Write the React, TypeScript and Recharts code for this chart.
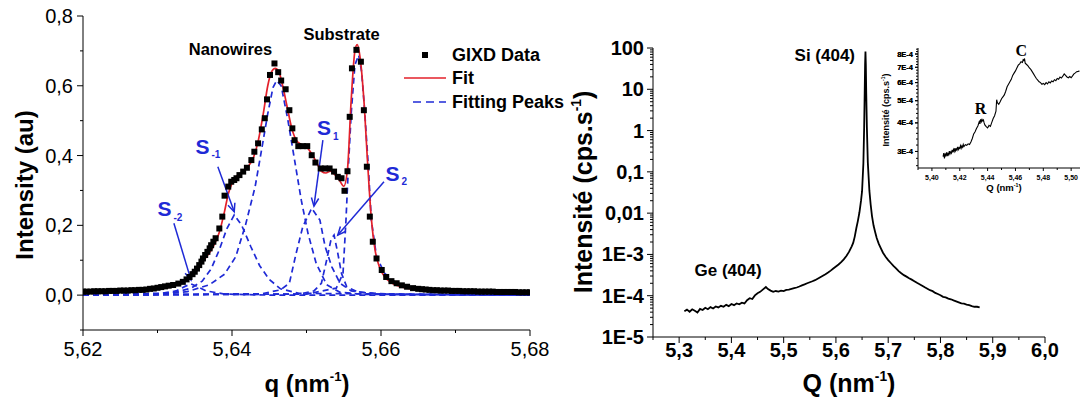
import React from 'react';
import {
    ComposedChart,
    LineChart,
    Line,
    Scatter,
    XAxis,
    YAxis,
    ReferenceLine,
    ReferenceDot,
    Legend,
} from 'recharts';

const font = '"Liberation Sans", Arial, Helvetica, sans-serif';
const serif = '"Liberation Serif", "Times New Roman", serif';
const blue = '#1f2ad6';
const red = '#e3202a';

// ---------- left panel: GIXD data, fit and fitting peaks ----------
const gixdQ = [
    5.62, 5.6205, 5.621, 5.6215, 5.622, 5.6225, 5.623, 5.6235, 5.624, 5.6245, 5.625, 5.6255, 5.626,
    5.6265, 5.627, 5.6275, 5.628, 5.6285, 5.629, 5.6295, 5.63, 5.6305, 5.631, 5.6315, 5.6321, 5.6328,
    5.6334, 5.6339, 5.6343, 5.6347, 5.635, 5.6353, 5.6356, 5.6359, 5.6361, 5.6364, 5.6367, 5.637,
    5.6372, 5.6375, 5.6378, 5.6383, 5.6387, 5.639, 5.6395, 5.6399, 5.6403, 5.6406, 5.641, 5.6415,
    5.642, 5.6426, 5.643, 5.6435, 5.644, 5.6444, 5.6447, 5.6451, 5.6457, 5.6462, 5.6466, 5.6472,
    5.6477, 5.6481, 5.6484, 5.6489, 5.6495, 5.6501, 5.6507, 5.6512, 5.6519, 5.6525, 5.6531, 5.6537,
    5.6542, 5.6547, 5.6551, 5.6555, 5.6558, 5.6561, 5.6567, 5.6573, 5.6577, 5.6581, 5.6585, 5.6589,
    5.6594, 5.6601, 5.6607, 5.6614, 5.6621, 5.6628, 5.6635, 5.6643, 5.665, 5.6655, 5.666, 5.6665,
    5.667, 5.6675, 5.668, 5.6685, 5.669, 5.6695, 5.67, 5.6705, 5.671, 5.6715, 5.672, 5.6725, 5.673,
    5.6735, 5.674, 5.6745, 5.675, 5.6755, 5.676, 5.6765, 5.677, 5.6775, 5.678, 5.6785, 5.679, 5.6795,
    5.68,
];
const gixdI = [
    0.01, 0.01, 0.01, 0.011, 0.011, 0.011, 0.011, 0.012, 0.012, 0.012, 0.013, 0.013, 0.013,
    0.014, 0.014, 0.015, 0.015, 0.016, 0.018, 0.019, 0.021, 0.023, 0.025, 0.027, 0.029, 0.033,
    0.038, 0.045, 0.052, 0.06, 0.067, 0.076, 0.086, 0.096, 0.105, 0.115, 0.124, 0.134,
    0.143, 0.153, 0.163, 0.191, 0.225, 0.285, 0.311, 0.325, 0.33, 0.335, 0.344, 0.354,
    0.365, 0.387, 0.411, 0.435, 0.475, 0.507, 0.561, 0.631, 0.664, 0.639, 0.615, 0.59,
    0.53, 0.478, 0.444, 0.427, 0.427, 0.427, 0.401, 0.38, 0.363, 0.363, 0.363, 0.354,
    0.339, 0.335, 0.299, 0.355, 0.511, 0.65, 0.703, 0.669, 0.53, 0.368, 0.225, 0.153,
    0.105, 0.072, 0.052, 0.04, 0.034, 0.028, 0.024, 0.02, 0.018, 0.017, 0.016, 0.015,
    0.014, 0.014, 0.013, 0.013, 0.013, 0.012, 0.012, 0.012, 0.011, 0.011, 0.011, 0.011, 0.01,
    0.01, 0.01, 0.01, 0.01, 0.009, 0.009, 0.009, 0.009, 0.009, 0.009, 0.008, 0.008, 0.008,
    0.008,
];

const fitQ = [
    5.62, 5.625, 5.628, 5.63, 5.6315, 5.6325, 5.6335, 5.6345, 5.6355, 5.6365, 5.6375, 5.6383, 5.639,
    5.6395, 5.64, 5.6405, 5.6412, 5.642, 5.6428, 5.6435, 5.6442, 5.6448, 5.6453, 5.6458, 5.6463,
    5.6468, 5.6474, 5.648, 5.6486, 5.6493, 5.65, 5.6507, 5.6514, 5.652, 5.6526, 5.6532, 5.6538,
    5.6544, 5.655, 5.6555, 5.656, 5.6565, 5.6568, 5.6572, 5.6577, 5.6582, 5.6587, 5.6592, 5.6598,
    5.6605, 5.6615, 5.663, 5.665, 5.668, 5.672, 5.68,
];
const fitI = [
    0.008, 0.01, 0.013, 0.017, 0.022, 0.029, 0.04, 0.057, 0.08, 0.108, 0.14, 0.18, 0.24,
    0.29, 0.32, 0.338, 0.35, 0.365, 0.39, 0.44, 0.52, 0.6, 0.64, 0.65, 0.64,
    0.6, 0.54, 0.48, 0.445, 0.432, 0.425, 0.405, 0.378, 0.355, 0.35, 0.355, 0.345,
    0.33, 0.312, 0.36, 0.56, 0.7, 0.718, 0.68, 0.56, 0.38, 0.22, 0.13, 0.08,
    0.052, 0.034, 0.022, 0.016, 0.012, 0.01, 0.008,
];

const peakS2Q = [5.62, 5.63, 5.6325, 5.6337, 5.6345, 5.6353, 5.6365, 5.639, 5.645, 5.68];
const peakS2I = [0, 0.003, 0.012, 0.025, 0.032, 0.025, 0.012, 0.003, 0, 0];

const peakS1mQ = [
    5.62, 5.632, 5.6345, 5.636, 5.6372, 5.6383, 5.6393, 5.6403, 5.6413, 5.6425, 5.6437, 5.645,
    5.6465, 5.649, 5.68,
];
const peakS1mI = [0, 0.006, 0.02, 0.04, 0.075, 0.13, 0.19, 0.23, 0.2, 0.14, 0.085, 0.045, 0.018, 0.005, 0];

const peakMainQ = [
    5.62, 5.63, 5.634, 5.637, 5.639, 5.6405, 5.6418, 5.6431, 5.644, 5.6448, 5.6455, 5.646, 5.6466,
    5.6475, 5.6484, 5.6493, 5.6502, 5.6513, 5.6527, 5.6545, 5.658, 5.68,
];
const peakMainI = [
    0, 0.002, 0.01, 0.03, 0.06, 0.11, 0.2, 0.31, 0.42, 0.52, 0.595, 0.615, 0.6,
    0.502, 0.387, 0.272, 0.177, 0.091, 0.03, 0.008, 0.002, 0,
];

const peakS1Q = [
    5.62, 5.644, 5.6465, 5.6477, 5.6486, 5.6495, 5.6507, 5.6518, 5.6525, 5.6534, 5.6545, 5.656,
    5.659, 5.68,
];
const peakS1I = [0, 0.004, 0.015, 0.034, 0.119, 0.196, 0.249, 0.215, 0.139, 0.081, 0.034, 0.012, 0.004, 0];

const peakS2pQ = [
    5.62, 5.649, 5.651, 5.652, 5.6527, 5.6533, 5.6537, 5.6542, 5.6547, 5.6554, 5.657, 5.662, 5.68,
];
const peakS2pI = [0, 0.003, 0.012, 0.034, 0.1, 0.16, 0.172, 0.12, 0.062, 0.024, 0.008, 0.002, 0];

const peakSubQ = [
    5.62, 5.65, 5.654, 5.6549, 5.6553, 5.6556, 5.656, 5.6565, 5.657, 5.6574, 5.6578, 5.6583,
    5.6587, 5.6594, 5.6605, 5.6621, 5.665, 5.67, 5.68,
];
const peakSubI = [
    0, 0.003, 0.02, 0.062, 0.215, 0.358, 0.521, 0.66, 0.688, 0.64, 0.53, 0.368,
    0.215, 0.11, 0.062, 0.034, 0.016, 0.006, 0.003,
];

const leftXTicks = [5.62, 5.63, 5.64, 5.65, 5.66, 5.67, 5.68];
const leftYTicks = [-0.1, 0, 0.1, 0.2, 0.3, 0.4, 0.5, 0.6, 0.7, 0.8];

// ---------- right panel: wide Q scan, log scale ----------
const scanQ = [
    5.31, 5.315, 5.32, 5.325, 5.33, 5.335, 5.34, 5.345, 5.35, 5.355, 5.36, 5.365, 5.37, 5.375,
    5.38, 5.385, 5.39, 5.395, 5.4, 5.405, 5.41, 5.415, 5.42, 5.425, 5.43, 5.435, 5.44, 5.445,
    5.45, 5.455, 5.46, 5.466, 5.47, 5.475, 5.48, 5.485, 5.49, 5.495, 5.5, 5.505, 5.51, 5.515,
    5.52, 5.525, 5.53, 5.535, 5.54, 5.545, 5.55, 5.555, 5.56, 5.565, 5.57, 5.575, 5.58, 5.585,
    5.59, 5.595, 5.6, 5.605, 5.61, 5.615, 5.62, 5.625, 5.63, 5.633, 5.636, 5.639, 5.642, 5.645,
    5.648, 5.65, 5.6525, 5.654, 5.655, 5.6558, 5.6565, 5.6572, 5.658, 5.6592, 5.661, 5.664,
    5.6665, 5.669, 5.672, 5.675, 5.678, 5.682, 5.686, 5.69, 5.695, 5.7, 5.705, 5.71, 5.715,
    5.72, 5.725, 5.73, 5.735, 5.74, 5.745, 5.75, 5.755, 5.76, 5.765, 5.77, 5.775, 5.78, 5.785,
    5.79, 5.795, 5.8, 5.805, 5.81, 5.815, 5.82, 5.825, 5.83, 5.835, 5.84, 5.845, 5.85, 5.855,
    5.86, 5.865, 5.87, 5.875,
];
const scanI = [
    4.2e-5, 4.6e-5, 4.1e-5, 4.7e-5, 4.3e-5, 3.9e-5, 4.8e-5, 4.5e-5, 5.1e-5, 4.7e-5, 5.3e-5, 4.9e-5, 5.5e-5, 5.2e-5,
    5.7e-5, 5.4e-5, 6.0e-5, 5.6e-5, 6.3e-5, 5.9e-5, 6.5e-5, 6.2e-5, 6.8e-5, 6.5e-5, 7.8e-5, 8.7e-5, 8.3e-5, 1.02e-4,
    1.15e-4, 1.24e-4, 1.4e-4, 1.62e-4, 1.45e-4, 1.33e-4, 1.24e-4, 1.3e-4, 1.26e-4, 1.33e-4, 1.29e-4, 1.38e-4, 1.4e-4, 1.46e-4,
    1.52e-4, 1.58e-4, 1.67e-4, 1.78e-4, 1.88e-4, 2.0e-4, 2.12e-4, 2.24e-4, 2.38e-4, 2.58e-4, 2.8e-4, 3.05e-4, 3.32e-4, 3.65e-4,
    4.05e-4, 4.55e-4, 5.1e-4, 5.7e-4, 6.5e-4, 7.6e-4, 9.2e-4, 1.15e-3, 1.55e-3, 1.9e-3, 2.7e-3, 4.3e-3, 6.5e-3, 1.05e-2,
    2.0e-2, 3.4e-2, 0.16, 1.2, 8, 40, 82, 40, 8, 1.2, 0.17, 0.035,
    0.016, 8.5e-3, 5.0e-3, 3.5e-3, 2.5e-3, 1.8e-3, 1.4e-3, 1.1e-3, 8.8e-4, 7.3e-4, 6.2e-4, 5.3e-4, 4.6e-4,
    3.95e-4, 3.5e-4, 3.15e-4, 2.9e-4, 2.65e-4, 2.45e-4, 2.25e-4, 2.05e-4, 1.9e-4, 1.75e-4, 1.6e-4, 1.48e-4, 1.36e-4, 1.29e-4,
    1.17e-4, 1.1e-4, 1.03e-4, 9.4e-5, 9.1e-5, 8.5e-5, 8.2e-5, 7.7e-5, 7.3e-5, 6.9e-5, 6.5e-5, 6.4e-5, 6.1e-5, 5.9e-5,
    5.6e-5, 5.4e-5, 5.4e-5, 5.2e-5,
];

const rightXTicks = [
    5.25, 5.3, 5.35, 5.4, 5.45, 5.5, 5.55, 5.6, 5.65, 5.7, 5.75, 5.8, 5.85, 5.9, 5.95, 6.0,
];
const logMajors = [1e-5, 1e-4, 1e-3, 1e-2, 1e-1, 1, 10, 100];
const logLabels = ['1E-5', '1E-4', '1E-3', '0,01', '0,1', '1', '10', '100'];
const logMinorSteps = [2, 3, 4, 5, 6, 7, 8, 9];

// ---------- inset: zoom on the Ge (404) region ----------
const insetQ = [
    5.408, 5.4085, 5.409, 5.4095, 5.41, 5.4105, 5.411, 5.4115, 5.412, 5.4125, 5.413, 5.4135, 5.414,
    5.4145, 5.415, 5.4155, 5.416, 5.4165, 5.417, 5.4175, 5.418, 5.4185, 5.419, 5.4195, 5.42, 5.4205,
    5.421, 5.4215, 5.422, 5.4225, 5.423, 5.424, 5.425, 5.426, 5.427, 5.428, 5.429, 5.43, 5.431,
    5.432, 5.433, 5.434, 5.4345, 5.435, 5.4355, 5.436, 5.4365, 5.437, 5.4375, 5.438, 5.439, 5.44,
    5.441, 5.442, 5.443, 5.444, 5.445, 5.446, 5.4465, 5.447, 5.448, 5.449, 5.45, 5.451, 5.452,
    5.453, 5.454, 5.455, 5.456, 5.457, 5.458, 5.459, 5.46, 5.461, 5.462, 5.463, 5.464, 5.465,
    5.4655, 5.466, 5.4665, 5.467, 5.468, 5.469, 5.47, 5.471, 5.472, 5.473, 5.474, 5.475, 5.476,
    5.477, 5.478, 5.479, 5.48, 5.481, 5.482, 5.483, 5.484, 5.485, 5.486, 5.487, 5.488, 5.489,
    5.49, 5.491, 5.492, 5.493, 5.494, 5.495, 5.496, 5.497, 5.498, 5.499, 5.5, 5.501, 5.502, 5.503,
    5.504, 5.505, 5.506,
];
const insetI = [
    2.85e-4, 2.95e-4, 2.8e-4, 2.92e-4, 2.88e-4, 2.97e-4, 2.86e-4, 2.94e-4, 2.9e-4, 3.01e-4, 2.93e-4, 2.99e-4, 2.95e-4,
    3.05e-4, 2.97e-4, 3.06e-4, 3.0e-4, 3.1e-4, 3.02e-4, 3.08e-4, 3.04e-4, 3.14e-4, 3.06e-4, 3.12e-4, 3.09e-4, 3.18e-4,
    3.1e-4, 3.17e-4, 3.13e-4, 3.22e-4, 3.15e-4, 3.21e-4, 3.19e-4, 3.24e-4, 3.22e-4, 3.3e-4, 3.42e-4, 3.58e-4, 3.66e-4,
    3.78e-4, 3.88e-4, 4.05e-4, 3.96e-4, 4.15e-4, 4.05e-4, 4.14e-4, 4.08e-4, 4.12e-4, 4.0e-4, 3.92e-4, 3.85e-4, 3.8e-4,
    3.9e-4, 3.86e-4, 4.02e-4, 4.18e-4, 4.3e-4, 4.5e-4, 5.05e-4, 4.9e-4, 4.82e-4, 4.95e-4, 5.1e-4, 5.2e-4, 5.3e-4,
    5.5e-4, 5.75e-4, 5.9e-4, 6.05e-4, 6.2e-4, 6.45e-4, 6.6e-4, 6.75e-4, 6.95e-4, 7.15e-4, 7.25e-4, 7.4e-4, 7.35e-4,
    7.55e-4, 7.5e-4, 7.65e-4, 7.3e-4, 7.2e-4, 7.1e-4, 6.95e-4, 6.85e-4, 6.7e-4, 6.55e-4, 6.4e-4, 6.25e-4, 6.15e-4,
    6.05e-4, 6.0e-4, 5.9e-4, 5.95e-4, 5.88e-4, 6.0e-4, 5.92e-4, 6.05e-4, 5.98e-4, 6.1e-4, 6.05e-4, 6.18e-4, 6.12e-4,
    6.25e-4, 6.2e-4, 6.35e-4, 6.28e-4, 6.4e-4, 6.55e-4, 6.45e-4, 6.35e-4, 6.3e-4, 6.38e-4, 6.3e-4, 6.42e-4, 6.55e-4, 6.62e-4,
    6.7e-4, 6.72e-4, 6.75e-4,
];

const insetXTicks = [
    5.39, 5.4, 5.41, 5.42, 5.43, 5.44, 5.45, 5.46, 5.47, 5.48, 5.49, 5.5, 5.51, 5.52,
];
const insetXLabelled = [5.4, 5.42, 5.44, 5.46, 5.48, 5.5];
const insetYMajors = [3e-4, 4e-4, 5e-4, 6e-4, 7e-4, 8e-4];
const insetYMinorStep = 0.2e-4;

const zip = (qs: number[], vs: number[]) => qs.map((q, i) => ({ q, v: vs[i] }));

const gixdData = zip(gixdQ, gixdI);
const fitData = zip(fitQ, fitI);
const peakSeries = [
    zip(peakS2Q, peakS2I),
    zip(peakS1mQ, peakS1mI),
    zip(peakMainQ, peakMainI),
    zip(peakS1Q, peakS1I),
    zip(peakS2pQ, peakS2pI),
    zip(peakSubQ, peakSubI),
];
const scanData = zip(scanQ, scanI);
const insetData = zip(insetQ, insetI);

const rightYTicks = [
    ...logMajors,
    ...logMajors.slice(0, -1).flatMap((d) => logMinorSteps.map((k) => d * k)),
].sort((a, b) => a - b);

const insetYTicks: number[] = [];
for (let v = 2.6e-4; v < 8.5e-4; v += insetYMinorStep) insetYTicks.push(Number(v.toPrecision(3)));

const isLogMajor = (v: number) => Math.abs(Math.log10(v) - Math.round(Math.log10(v))) < 1e-6;
const logLabel = (v: number) => {
    const i = logMajors.findIndex((m) => Math.abs(m - v) / m < 1e-6);
    return i >= 0 ? logLabels[i] : '';
};

// ---------- tick renderers (ticks drawn by hand so minor ticks can be short) ----------
type TickOpts = {
    isMajor: (v: number) => boolean;
    label: (v: number) => string;
    fontSize: number;
    bold?: boolean;
    major: number;
    minor: number;
    gap: number;
};

const makeYTick = (o: TickOpts) => (p: any) => {
    const { x, y, payload } = p;
    const v = payload.value;
    const maj = o.isMajor(v);
    return (
        <g>
            <line x1={x} x2={x - (maj ? o.major : o.minor)} y1={y} y2={y} stroke="#000" strokeWidth={1} />
            {maj && (
                <text
                    x={x - o.gap}
                    y={y}
                    textAnchor="end"
                    dominantBaseline="central"
                    fontSize={o.fontSize}
                    fontWeight={o.bold ? 700 : 400}
                    fontFamily={font}
                    fill="#000"
                >
                    {o.label(v)}
                </text>
            )}
        </g>
    );
};

const makeXTick = (o: TickOpts) => (p: any) => {
    const { x, y, payload } = p;
    const v = payload.value;
    const maj = o.isMajor(v);
    return (
        <g>
            <line x1={x} x2={x} y1={y} y2={y + (maj ? o.major : o.minor)} stroke="#000" strokeWidth={1} />
            {maj && (
                <text
                    x={x}
                    y={y + o.gap}
                    textAnchor="middle"
                    dominantBaseline="central"
                    fontSize={o.fontSize}
                    fontWeight={o.bold ? 700 : 400}
                    fontFamily={font}
                    fill="#000"
                >
                    {o.label(v)}
                </text>
            )}
        </g>
    );
};

const leftYTick = makeYTick({
    isMajor: (v) => Math.round(v * 10) % 2 === 0,
    label: (v) => v.toFixed(1).replace('.', ','),
    fontSize: 20,
    major: 6,
    minor: 3,
    gap: 10,
});
const leftXTick = makeXTick({
    isMajor: (v) => Math.round(v * 100) % 2 === 0,
    label: (v) => v.toFixed(2).replace('.', ','),
    fontSize: 20,
    major: 6,
    minor: 3,
    gap: 19,
});
const rightYTick = makeYTick({
    isMajor: isLogMajor,
    label: logLabel,
    fontSize: 20,
    bold: true,
    major: 6,
    minor: 3,
    gap: 9,
});
const rightXTick = makeXTick({
    isMajor: (v) => Math.round(v * 100) % 10 === 0,
    label: (v) => v.toFixed(1).replace('.', ','),
    fontSize: 20,
    bold: true,
    major: 6,
    minor: 3,
    gap: 13,
});
const insetYTick = makeYTick({
    isMajor: (v) => Math.abs(v * 1e4 - Math.round(v * 1e4)) < 1e-6,
    label: (v) => `${Math.round(v * 1e4)}E-4`,
    fontSize: 7.5,
    bold: true,
    major: 3,
    minor: 2,
    gap: 5,
});
const insetXTick = makeXTick({
    isMajor: (v) => insetXLabelled.some((m) => Math.abs(m - v) < 1e-6),
    label: (v) => v.toFixed(2).replace('.', ','),
    fontSize: 7,
    bold: true,
    major: 3,
    minor: 2,
    gap: 9,
});

// ---------- annotation shapes ----------
const Arrow = (p: any) => {
    const { x1, y1, x2, y2 } = p;
    const a = Math.atan2(y2 - y1, x2 - x1);
    const h = 9;
    const w = 0.42;
    const ax = x2 - h * Math.cos(a - w);
    const ay = y2 - h * Math.sin(a - w);
    const bx = x2 - h * Math.cos(a + w);
    const by = y2 - h * Math.sin(a + w);
    return (
        <g stroke={blue} strokeWidth={1.5} fill="none">
            <line x1={x1} y1={y1} x2={x2} y2={y2} />
            <polyline points={`${ax},${ay} ${x2},${y2} ${bx},${by}`} />
        </g>
    );
};

const peakLabel = (sub: string) => (p: any) => (
    <text x={p.cx} y={p.cy} fill={blue} fontFamily={font} fontWeight={700} fontSize={21} dominantBaseline="central">
        S
        <tspan dx={2} dy={8} fontSize={10}>
            {sub}
        </tspan>
    </text>
);

const plainLabel = (txt: string, size: number, family = font) => (p: any) => (
    <text
        x={p.cx}
        y={p.cy}
        textAnchor="middle"
        dominantBaseline="central"
        fontFamily={family}
        fontWeight={700}
        fontSize={size}
        fill="#000"
    >
        {txt}
    </text>
);

const LeftLegend = () => (
    <svg width={170} height={72} style={{ overflow: 'visible' }}>
        <rect x={22} y={9} width={6} height={6} fill="#000" />
        <text x={52} y={12} dominantBaseline="central" fontFamily={font} fontWeight={700} fontSize={18}>
            GIXD Data
        </text>
        <line x1={4} x2={46} y1={35} y2={35} stroke={red} strokeWidth={1.6} />
        <text x={52} y={35} dominantBaseline="central" fontFamily={font} fontWeight={700} fontSize={18}>
            Fit
        </text>
        <line x1={13} x2={46} y1={59} y2={59} stroke={blue} strokeWidth={1.7} strokeDasharray="8 5" />
        <text x={52} y={59} dominantBaseline="central" fontFamily={font} fontWeight={700} fontSize={18}>
            Fitting Peaks
        </text>
    </svg>
);

const Square = (p: any) => <rect x={p.cx - 3} y={p.cy - 3} width={6} height={6} fill="#000" />;

const Sup = ({ children }: { children: React.ReactNode }) => (
    <span style={{ fontSize: '0.55em', verticalAlign: '0.8em' }}>{children}</span>
);

const Title = ({
    x,
    y,
    size,
    rotate,
    children,
}: {
    x: number;
    y: number;
    size: number;
    rotate?: boolean;
    children: React.ReactNode;
}) => (
    <div
        style={{
            position: 'absolute',
            left: x,
            top: y,
            transform: `translate(-50%, -50%)${rotate ? ' rotate(-90deg)' : ''}`,
            fontFamily: font,
            fontWeight: 700,
            fontSize: size,
            lineHeight: 1,
            whiteSpace: 'nowrap',
            color: '#000',
        }}
    >
        {children}
    </div>
);

export default function App() {
    return (
        <div
            style={{
                position: 'absolute',
                left: 0,
                top: 0,
                width: 1080,
                height: 401,
                overflow: 'hidden',
                background: '#fff',
            }}
        >
            {/* left panel */}
            <div style={{ position: 'absolute', left: 0, top: 0 }}>
                <ComposedChart width={562} height={401} margin={{ top: 16, right: 32, bottom: 0, left: 0 }}>
                    <XAxis
                        type="number"
                        dataKey="q"
                        domain={[5.62, 5.68]}
                        ticks={leftXTicks}
                        interval={0}
                        allowDataOverflow
                        height={71}
                        tickSize={0}
                        tickMargin={0}
                        tickLine={false}
                        tick={leftXTick}
                        axisLine={{ stroke: '#000' }}
                    />
                    <YAxis
                        type="number"
                        domain={[-0.1, 0.8]}
                        ticks={leftYTicks}
                        interval={0}
                        allowDataOverflow
                        width={83}
                        tickSize={0}
                        tickMargin={0}
                        tickLine={false}
                        tick={leftYTick}
                        axisLine={{ stroke: '#000' }}
                    />
                    <Legend
                        layout="vertical"
                        align="center"
                        verticalAlign="middle"
                        wrapperStyle={{ left: 400, top: 43, width: 170, height: 72 }}
                        content={() => <LeftLegend />}
                    />
                    <Scatter
                        name="GIXD Data"
                        data={gixdData}
                        dataKey="v"
                        shape={Square}
                        isAnimationActive={false}
                    />
                    {peakSeries.map((d, i) => (
                        <Line
                            key={i}
                            data={d}
                            dataKey="v"
                            type="linear"
                            stroke={blue}
                            strokeWidth={1.7}
                            strokeDasharray="6 4"
                            dot={false}
                            activeDot={false}
                            isAnimationActive={false}
                        />
                    ))}
                    <Line
                        name="Fit"
                        data={fitData}
                        dataKey="v"
                        type="monotone"
                        stroke={red}
                        strokeWidth={1.7}
                        dot={false}
                        activeDot={false}
                        isAnimationActive={false}
                    />
                    <ReferenceDot x={5.6398} y={0.705} shape={plainLabel('Nanowires', 16.5)} />
                    <ReferenceDot x={5.6547} y={0.748} shape={plainLabel('Substrate', 16.5)} />
                    <ReferenceDot x={5.63} y={0.247} shape={peakLabel('-2')} />
                    <ReferenceDot x={5.6351} y={0.427} shape={peakLabel('-1')} />
                    <ReferenceDot x={5.6514} y={0.479} shape={peakLabel('1')} />
                    <ReferenceDot x={5.6606} y={0.35} shape={peakLabel('2')} />
                    <ReferenceLine segment={[{ x: 5.6322, y: 0.206 }, { x: 5.6345, y: 0.043 }]} shape={Arrow} />
                    <ReferenceLine segment={[{ x: 5.6381, y: 0.368 }, { x: 5.6403, y: 0.239 }]} shape={Arrow} />
                    <ReferenceLine segment={[{ x: 5.6522, y: 0.444 }, { x: 5.651, y: 0.255 }]} shape={Arrow} />
                    <ReferenceLine segment={[{ x: 5.6604, y: 0.325 }, { x: 5.6542, y: 0.172 }]} shape={Arrow} />
                </ComposedChart>
            </div>

            {/* right panel */}
            <div style={{ position: 'absolute', left: 540, top: 0 }}>
                <LineChart width={540} height={401} margin={{ top: 48, right: 35, bottom: 0, left: 0 }}>
                    <XAxis
                        type="number"
                        dataKey="q"
                        domain={[5.25, 6.0]}
                        ticks={rightXTicks}
                        interval={0}
                        allowDataOverflow
                        height={64}
                        tickSize={0}
                        tickMargin={0}
                        tickLine={false}
                        tick={rightXTick}
                        axisLine={{ stroke: '#000' }}
                    />
                    <YAxis
                        type="number"
                        scale="log"
                        domain={[1e-5, 100]}
                        ticks={rightYTicks}
                        interval={0}
                        allowDataOverflow
                        width={113}
                        tickSize={0}
                        tickMargin={0}
                        tickLine={false}
                        tick={rightYTick}
                        axisLine={{ stroke: '#000' }}
                    />
                    <Line
                        data={scanData}
                        dataKey="v"
                        type="linear"
                        stroke="#000"
                        strokeWidth={1.8}
                        dot={false}
                        activeDot={false}
                        isAnimationActive={false}
                    />
                    <ReferenceDot x={5.5787} y={66} shape={plainLabel('Si (404)', 17)} />
                    <ReferenceDot x={5.3936} y={4.1e-4} shape={plainLabel('Ge (404)', 17)} />
                </LineChart>
            </div>

            {/* inset */}
            <div style={{ position: 'absolute', left: 858, top: 30 }}>
                <LineChart width={260} height={170} margin={{ top: 18, right: 19, bottom: 0, left: 0 }}>
                    <XAxis
                        type="number"
                        dataKey="q"
                        domain={[5.39, 5.52]}
                        ticks={insetXTicks}
                        interval={0}
                        allowDataOverflow
                        height={32}
                        tickSize={0}
                        tickMargin={0}
                        tickLine={false}
                        tick={insetXTick}
                        axisLine={{ stroke: '#000' }}
                    />
                    <YAxis
                        type="number"
                        scale="log"
                        domain={[2.54e-4, 8.5e-4]}
                        ticks={[...insetYTicks, ...insetYMajors].sort((a, b) => a - b)}
                        interval={0}
                        allowDataOverflow
                        width={60}
                        tickSize={0}
                        tickMargin={0}
                        tickLine={false}
                        tick={insetYTick}
                        axisLine={{ stroke: '#000' }}
                    />
                    <Line
                        data={insetData}
                        dataKey="v"
                        type="linear"
                        stroke="#000"
                        strokeWidth={1.1}
                        dot={false}
                        activeDot={false}
                        isAnimationActive={false}
                    />
                    <ReferenceDot x={5.435} y={4.6e-4} shape={plainLabel('R', 16, serif)} />
                    <ReferenceDot x={5.4641} y={8.3e-4} shape={plainLabel('C', 16, serif)} />
                </LineChart>
            </div>

            <Title x={25} y={185} size={24} rotate>
                Intensity (au)
            </Title>
            <Title x={307} y={383} size={24}>
                q (nm<Sup>-1</Sup>)
            </Title>
            <Title x={583} y={192} size={25} rotate>
                Intensité (cps.s<Sup>-1</Sup>)
            </Title>
            <Title x={849} y={383} size={25}>
                Q (nm<Sup>-1</Sup>)
            </Title>
            <Title x={886} y={110} size={9} rotate>
                Intensité (cps.s<Sup>-1</Sup>)
            </Title>
            <Title x={1004} y={188} size={9.5}>
                Q (nm<Sup>-1</Sup>)
            </Title>
        </div>
    );
}
